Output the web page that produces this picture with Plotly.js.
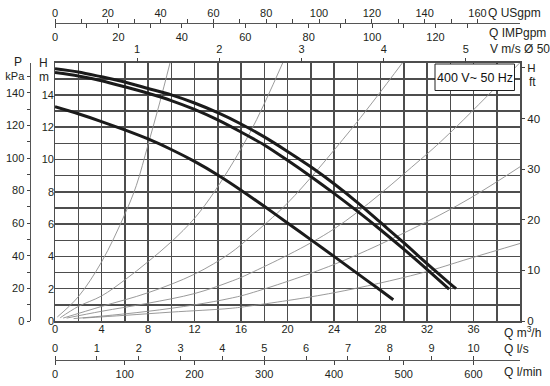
<!DOCTYPE html>
<html><head><meta charset="utf-8">
<script src="https://cdn.plot.ly/plotly-3.0.1.min.js"></script>
<style>html,body{margin:0;padding:0;background:#fff}#c{width:550px;height:386px}</style>
</head><body><div id="c"></div>
<script>
// ---- data ----
// pump curves (Q m3/h, H m)
const qPump1 = [0, 2, 4, 6, 8, 10, 12, 14, 16, 18, 20, 22, 24, 26, 28, 30, 32, 34, 34.5];
const hPump1 = [15.62, 15.42, 15.12, 14.8, 14.4, 14.0, 13.5, 12.9, 12.2, 11.4, 10.5, 9.55, 8.5, 7.35, 6.1, 4.85, 3.55, 2.3, 2.0];
const qPump2 = [0, 2, 4, 6, 8, 10, 12, 14, 16, 18, 20, 22, 24, 26, 28, 30, 32, 33.9];
const hPump2 = [15.38, 15.17, 14.88, 14.5, 14.1, 13.65, 13.1, 12.45, 11.7, 10.9, 9.95, 8.95, 7.9, 6.8, 5.65, 4.45, 3.2, 1.98];
const qPump3 = [0, 2, 4, 6, 8, 10, 12, 14, 16, 18, 20, 22, 24, 26, 28, 29.1];
const hPump3 = [13.27, 12.83, 12.35, 11.83, 11.27, 10.62, 9.88, 9.04, 8.1, 7.1, 6.07, 5.04, 4.0, 2.95, 1.9, 1.32];
// thin system curves
const qSysA = [0.2, 2, 4, 6, 7, 8, 9, 9.9];
const hSysA = [0.25, 1.5, 3.65, 6.6, 8.4, 10.9, 13.5, 16];
const qSysB = [0.45, 2, 4, 6, 8, 10, 12, 13.8, 16.8, 19.6];
const hSysB = [0.2, 0.9, 1.55, 2.54, 3.67, 4.9, 6.36, 8.1, 11.7, 16];
const qSysC = [0.7, 4, 8, 12, 15.05, 16.77, 20, 25.4, 29.9];
const hSysC = [0.18, 0.9, 1.75, 2.9, 4.19, 5.2, 7.3, 11.8, 16];
const qSysD = [1.0, 4, 8, 12, 15.05, 16.77, 24, 31.4, 34.2, 40];
const hSysD = [0.18, 0.6, 1.1, 1.7, 2.43, 2.95, 5.7, 9.97, 11.8, 16];
const qSysE = [1.6, 4, 8, 12, 15.05, 16.77, 24, 31.4, 35.7, 40];
const hSysE = [0.15, 0.3, 0.6, 1.0, 1.4, 1.71, 3.5, 5.94, 7.6, 9.55];
const qSysF = [2.4, 6, 10, 15.05, 16.77, 24, 31.4, 35.7, 40];
const hSysF = [0.18, 0.35, 0.55, 0.78, 0.93, 1.75, 2.95, 3.88, 4.8];
// axis ticks
const qGrid = [0,2,4,6,8,10,12,14,16,18,20,22,24,26,28,30,32,34,36,38,40];
const hGrid = [0,1,2,3,4,5,6,7,8,9,10,11,12,13,14,15,16];
const qTicks = [0, 4, 8, 12, 16, 20, 24, 28, 32, 36];
const hTicks = [0, 2, 4, 6, 8, 10, 12, 14];
const usTicks = [0, 20, 40, 60, 80, 100, 120, 140, 160];
const usMinor = [10, 30, 50, 70, 90, 110, 130, 150];
const impTicks = [0, 20, 40, 60, 80, 100, 120];
const impMinor = [10, 30, 50, 70, 90, 110, 130];
const velTicks = [1, 2, 3, 4, 5];
const lsTicks = [0,1,2,3,4,5,6,7,8,9,10];
const lminTicks = [0,100,200,300,400,500,600];
const ftTicks = [0, 10, 20, 30, 40, 50];
const ftText = ['0', '10', '20', '30', '40', 'H'];
const kpaTicks = [0, 20, 40, 60, 80, 100, 120, 140, 150];
const kpaText = ['0', '20', '40', '60', '80', '100', '120', '140', 'kPa'];
const kpaMinor = [10, 30, 50, 70, 90, 110, 130];
const boxLabel = '400 V~ 50 Hz';

// ---- geometry ----
const W = 550, H = 386;
const px = x => x / W, py = y => 1 - y / H;
const xL = 55, xR = 520, yT = 62.6, yB = 321;
const qMax = 40, hMax = 16;
const FONT = 'Liberation Sans, Arial, sans-serif';
const TXT = '#231f20';
const GRID = '#4d4d4d';
const tf = {family: FONT, size: 11, color: TXT};

const traces = [];
function sysTrace(q, h) {
  traces.push({x: q, y: h, mode: 'lines', line: {color: '#8e8e8e', width: 0.9, shape: 'spline'},
    hoverinfo: 'skip', showlegend: false});
}
[[qSysA,hSysA],[qSysB,hSysB],[qSysC,hSysC],[qSysD,hSysD],[qSysE,hSysE],[qSysF,hSysF]].forEach(p => sysTrace(p[0], p[1]));
function pumpTrace(q, h) {
  traces.push({x: q, y: h, mode: 'lines', line: {color: '#1b1b1b', width: 3.0, shape: 'spline', smoothing: 0.8},
    hoverinfo: 'skip', showlegend: false});
}
pumpTrace(qPump1, hPump1); pumpTrace(qPump2, hPump2); pumpTrace(qPump3, hPump3);
// dummy traces to register the extra axes
['x2','x3','x4','x5','x6','x7'].forEach(a => traces.push({x:[0], y:[0], xaxis:a, yaxis:'y', mode:'markers', marker:{opacity:0}, hoverinfo:'skip', showlegend:false}));
['y2','y3','y4'].forEach(a => traces.push({x:[0], y:[0], xaxis:'x', yaxis:a, mode:'markers', marker:{opacity:0}, hoverinfo:'skip', showlegend:false}));

const dom = [px(xL), px(xR)];
const ydom = [py(yB), py(yT)];
const topLine = py(22.5), botLine = py(360);
function freeX(range, pos, side, vals, text, extra) {
  return Object.assign({overlaying: 'x', anchor: 'free', position: pos, side: side, domain: dom,
    range: range, autorange: false, fixedrange: true, tickmode: 'array', tickvals: vals, ticktext: text,
    ticks: 'outside', ticklen: 4, tickwidth: 1, tickcolor: '#444', showgrid: false, zeroline: false,
    showline: false, tickfont: tf}, extra || {});
}

const layout = {
  width: W, height: H, margin: {l: 0, r: 0, t: 0, b: 0},
  paper_bgcolor: '#fff', plot_bgcolor: '#fff', showlegend: false,
  font: {family: FONT, size: 11, color: TXT},
  xaxis: {domain: dom, range: [0, qMax], autorange: false, fixedrange: true,
    tickmode: 'array', tickvals: qGrid, showticklabels: false, ticks: '',
    showgrid: true, gridcolor: GRID, gridwidth: 1.5, zeroline: false,
    showline: true, mirror: true, linecolor: GRID, linewidth: 1.5},
  yaxis: {domain: ydom, range: [0, hMax], autorange: false, fixedrange: true,
    tickmode: 'array', tickvals: hGrid, showticklabels: false, ticks: '',
    showgrid: true, gridcolor: GRID, gridwidth: 1.5, zeroline: false,
    showline: true, mirror: true, linecolor: GRID, linewidth: 1.5},
  xaxis7: {overlaying: 'x', anchor: 'y', side: 'bottom', domain: dom, range: [0, qMax], autorange: false, fixedrange: true,
    tickmode: 'array', tickvals: qTicks, ticktext: qTicks.map(String), ticks: '', showgrid: false, zeroline: false,
    showline: false, tickfont: tf},
  yaxis4: {overlaying: 'y', anchor: 'x', side: 'left', domain: ydom, range: [0, hMax], autorange: false, fixedrange: true,
    tickmode: 'array', tickvals: hTicks, ticktext: hTicks.map(String), ticks: '', showgrid: false, zeroline: false,
    showline: false, tickfont: tf},
  xaxis2: freeX([0, qMax * 4.40287], topLine, 'top', usTicks, usTicks.map(String),
    {showline: true, linecolor: '#555', linewidth: 1.2, ticklabelstandoff: -3,
     minor: {tickmode: 'array', tickvals: usMinor, ticks: 'outside', ticklen: 4, tickcolor: '#444', showgrid: false}}),
  xaxis3: freeX([0, qMax * 3.66615], topLine, 'bottom', impTicks, impTicks.map(String),
    {minor: {tickmode: 'array', tickvals: impMinor, ticks: 'outside', ticklen: 4, tickcolor: '#444', showgrid: false}}),
  xaxis4: freeX([0, qMax / 3.6 / 1000 / (Math.PI * 0.025 * 0.025)], py(yT), 'top', velTicks, velTicks.map(String), {ticklen: 5}),
  xaxis5: freeX([0, qMax / 3.6], botLine, 'top', lsTicks, lsTicks.map(String), {showline: true, linecolor: '#555', linewidth: 1.2}),
  xaxis6: freeX([0, qMax / 0.06], botLine, 'bottom', lminTicks, lminTicks.map(String), {}),
  yaxis2: {overlaying: 'y', anchor: 'free', position: px(xR), side: 'right', domain: ydom,
    range: [0, hMax * 3.19], autorange: false, fixedrange: true, tickmode: 'array',
    tickvals: ftTicks, ticktext: ftText, ticks: 'outside', ticklen: 4, tickcolor: '#444',
    showgrid: false, zeroline: false, showline: false, tickfont: {family: FONT, size: 11.5, color: TXT}},
  yaxis3: {overlaying: 'y', anchor: 'free', position: px(29.5), side: 'left', domain: ydom,
    range: [0, hMax * 9.91], autorange: false, fixedrange: true, tickmode: 'array',
    tickvals: kpaTicks, ticktext: kpaText, ticks: 'outside', ticklen: 3, tickcolor: '#444',
    minor: {tickmode: 'array', tickvals: kpaMinor, ticks: 'outside', ticklen: 3, tickcolor: '#444', showgrid: false},
    showgrid: false, zeroline: false, showline: true, linecolor: '#555', linewidth: 1.2, tickfont: tf},
  shapes: [
    {type: 'rect', xref: 'paper', yref: 'paper', x0: px(435), x1: px(514.5), y0: py(90.5), y1: py(64),
     fillcolor: '#fff', line: {color: '#222', width: 1}, layer: 'above'}
  ],
  annotations: []
};
function ann(text, x, y, xanchor, size, extra) {
  layout.annotations.push(Object.assign({text: text, xref: 'paper', yref: 'paper', x: px(x), y: py(y),
    xanchor: xanchor, yanchor: 'middle', showarrow: false, font: {family: FONT, size: size || 11, color: TXT}}, extra || {}));
}
ann('Q USgpm', 486, 13, 'left', 12);
ann('Q IMPgpm', 487, 33, 'left', 12);
ann('V m/s Ø 50', 488, 48.5, 'left', 12);
ann('ft', 527, 82, 'left', 12);
ann('Q m<sup>3</sup>/h', 502, 332, 'left', 12);
ann('Q l/s', 502, 349, 'left', 12);
ann('Q l/min', 502, 372, 'left', 12);
ann('P', 18, 62, 'center', 12);
ann('H', 43.5, 63, 'center', 12);
ann('m', 43.5, 77, 'center', 12);
ann(boxLabel, 475, 77.5, 'center', 12.5, {font: {family: FONT, size: 12.5, color: '#111'}});

Plotly.newPlot('c', traces, layout, {staticPlot: true, displayModeBar: false});
</script></body></html>
